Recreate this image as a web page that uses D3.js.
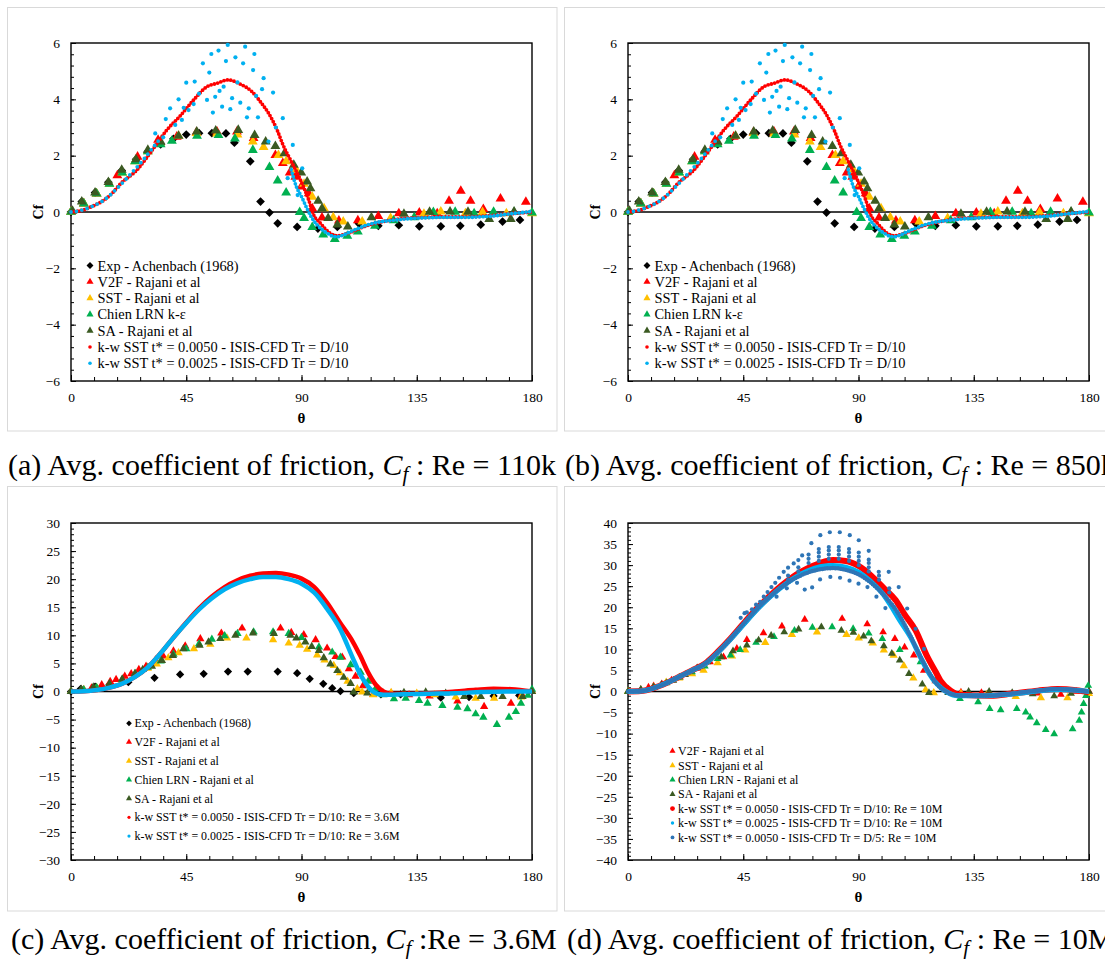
<!DOCTYPE html>
<html><head><meta charset="utf-8">
<script src="https://cdn.jsdelivr.net/npm/d3@7"></script>
<style>
body{margin:0;background:#fff;}
svg{display:block;}
text{font-family:"Liberation Serif","Times New Roman",serif;}
</style>
</head><body>
<svg id="chart" width="1105" height="959"></svg>
<script>
// ---------------- DATA ----------------
const xTickValues = [0, 45, 90, 135, 180];
const yTicksA = [-6, -4, -2, 0, 2, 4, 6];
const yTicksC = [-30, -25, -20, -15, -10, -5, 0, 5, 10, 15, 20, 25, 30];
const yTicksD = [-40, -35, -30, -25, -20, -15, -10, -5, 0, 5, 10, 15, 20, 25, 30, 35, 40];

const legendA = ["Exp - Achenbach (1968)", "V2F - Rajani et al", "SST - Rajani et al", "Chien LRN k-\u03b5", "SA - Rajani et al",
  "k-w SST t* = 0.0050 - ISIS-CFD Tr = D/10", "k-w SST t* = 0.0025 - ISIS-CFD Tr = D/10"];
const legendC = ["Exp - Achenbach (1968)", "V2F - Rajani et al", "SST - Rajani et al", "Chien LRN - Rajani et al", "SA - Rajani et al",
  "k-w SST t* = 0.0050 - ISIS-CFD Tr = D/10: Re = 3.6M", "k-w SST t* = 0.0025 - ISIS-CFD Tr = D/10: Re = 3.6M"];
const legendD = ["V2F - Rajani et al", "SST - Rajani et al", "Chien LRN - Rajani et al", "SA - Rajani et al",
  "k-w SST t* = 0.0050 - ISIS-CFD Tr = D/10: Re = 10M", "k-w SST t* = 0.0025 - ISIS-CFD Tr = D/10: Re = 10M",
  "k-w SST t* = 0.0050 - ISIS-CFD Tr = D/5: Re = 10M"];

const captionA = ["(a) Avg. coefficient of friction, ", " : Re = 110k"];
const captionB = ["(b) Avg. coefficient of friction, ", " : Re = 850k"];
const captionC = ["(c) Avg. coefficient of friction, ", " :Re = 3.6M"];
const captionD = ["(d) Avg. coefficient of friction, ", " : Re = 10M"];

// Panel (a)/(b): Re = 110k / 850k  [theta (deg), Cf]
const expA = [[0,0],[4.2,0.37],[9.4,0.69],[14.6,1.06],[19.8,1.47],[25.4,1.87],[30,2.15],[35,2.4],[40,2.6],[45,2.75],[50,2.8],[55,2.8],[60.5,2.79],[63.8,2.46],[70,1.8],[74,0.37],[77.5,-0.02],[80.7,-0.4],[88.3,-0.53],[96.4,-0.59],[104,-0.53],[112.4,-0.41],[120,-0.49],[128,-0.47],[136,-0.51],[144.4,-0.51],[152,-0.49],[160,-0.45],[168.5,-0.34],[175.3,-0.28]];
const v2fA = [[0,0],[5,0.3],[10,0.65],[18.1,1.3],[26,1.96],[34,2.56],[41.3,2.67],[49,2.83],[57,2.85],[64.8,2.85],[71.3,2.62],[79.8,2.02],[82.7,1.73],[85.4,1.4],[87.6,1.25],[89.9,0.9],[92.8,0.66],[94.2,0.13],[98,-0.2],[104.6,-0.31],[112,-0.3],[120,-0.15],[128,-0.05],[136,-0.02],[143,-0.05],[147.6,0.39],[152.2,0.75],[156,0.39],[161,0.1],[167.7,0.47],[177.6,0.36]];
const sstA = [[0,0],[5,0.3],[10,0.65],[15,1.0],[20,1.4],[25,1.8],[30,2.15],[34.8,2.44],[42,2.7],[49,2.8],[57,2.78],[65,2.75],[71,2.5],[75.2,2.3],[81,2.02],[84,1.8],[88,1.49],[91,1.0],[94.2,0.54],[98.8,0.13],[102.4,-0.19],[106.3,-0.34],[113.7,-0.34],[124.8,-0.22],[137.8,-0.07],[144.4,0.01],[154,-0.05],[160.7,-0.01],[170,-0.05],[180,-0.05]];
const chienA = [[0,0],[5,0.3],[10,0.65],[15,1.0],[20,1.4],[25,1.8],[30,2.15],[35,2.4],[39.4,2.52],[49.2,2.7],[57.6,2.73],[64,2.6],[71,2.2],[77.5,1.59],[80.7,1.11],[84,0.69],[89.3,-0.01],[91,-0.22],[94.2,-0.54],[98.5,-0.8],[103,-0.96],[107.9,-0.85],[112,-0.7],[118.7,-0.49],[126,-0.3],[134,-0.19],[141.5,-0.01],[150,0],[157.4,-0.05],[165,0],[173,-0.01],[180,-0.02]];
const saA = [[0.6,0.04],[4.2,0.37],[9.4,0.69],[14.6,1.06],[19.8,1.49],[25.4,1.87],[30,2.2],[35,2.5],[42,2.7],[49.1,2.85],[56.5,2.89],[65.3,2.91],[71.7,2.73],[76,2.5],[79.8,2.34],[83.3,2.08],[87,1.67],[89.9,1.4],[92.2,1.08],[93.5,0.84],[96.5,0.39],[98,0.13],[100.4,-0.22],[104,-0.45],[108.1,-0.52],[117.3,-0.19],[130,-0.07],[140,0],[148,0.01],[155,0],[163.3,-0.25],[171.7,-0.25],[173,0.01]];
const redA = [[0,0],[5,0.08],[8,0.19],[12,0.37],[16,0.66],[19.2,0.99],[25.7,1.49],[32.2,2.26],[37.4,2.91],[42.6,3.41],[47.9,3.98],[53.1,4.45],[57,4.57],[61.3,4.69],[66.1,4.54],[70.7,4.27],[73.9,3.92],[77.2,3.5],[80.5,2.91],[82.8,2.38],[85.7,1.85],[89.6,1.14],[92.8,0.43],[94.8,-0.11],[97.4,-0.4],[101.3,-0.76],[104,-0.84],[107.9,-0.76],[114.4,-0.52],[123.5,-0.31],[131.3,-0.22],[136.5,-0.2],[145,-0.17],[155,-0.17],[165,-0.12],[173,-0.05],[180,0]];
const blueLowA = [[0,0],[3,0.04],[6,0.12],[9,0.23],[12,0.37],[15,0.58],[18,0.84],[21,1.12],[24,1.42],[27,1.72],[30,2.05],[33,2.4],[35,2.62]];
const blueTailA = [[86,1.5],[88,0.9],[90,0.55],[92,0.15],[94,-0.2],[96,-0.45],[98,-0.62],[100,-0.75],[102,-0.85],[104,-0.88],[106,-0.83],[108,-0.75],[110,-0.66],[113,-0.55],[116,-0.45],[120,-0.36],[125,-0.3],[130,-0.25],[135,-0.22],[140,-0.2],[145,-0.19],[150,-0.19],[155,-0.19],[160,-0.17],[165,-0.14],[170,-0.08],[175,-0.03],[180,0.02]];
const blueScatterA = [[32.9,2.79],[36,2.65],[37,3.3],[38.7,3.68],[40.7,3.09],[42,4.0],[43.3,3.27],[44,3.7],[45,4.59],[45.9,3.62],[47.9,3.83],[48.3,4.63],[50,4.2],[51.5,5.28],[53.1,3.98],[54,4.95],[54.8,5.61],[55.4,3.53],[56.3,4.09],[57.6,5.73],[58,4.3],[59,3.74],[59.6,4.45],[60.5,5.36],[61.2,5.93],[62.2,3.65],[62.9,4.04],[64.2,5.49],[65,4.6],[66.1,3.88],[67.2,5.28],[68,5.87],[68.7,3.36],[69.4,3.68],[71.1,5.04],[71.6,5.61],[72.3,4.12],[73,3.36],[74.6,4.36],[75.2,4.75],[77.1,2.5],[78.9,4.24],[80,3.0],[82.7,3.33],[84.6,1.2],[86.6,2.38],[88.5,0.6],[90.3,1.55]];

// Panel (c): Re = 3.6M
const expC = [[0,0],[3.8,0.47],[9.4,0.89],[15,1.2],[22.4,1.66],[32.6,2.44],[42.6,3.03],[51.8,3.15],[61.3,3.56],[69,3.56],[80.7,3.56],[88.3,3.26],[93.2,2.26],[98.5,1.37],[102,0.59],[105.2,0.05],[110.4,-0.3],[121,-0.5],[128.7,-0.53],[144.4,-1.1],[155.4,-1.0],[165,-0.8],[175,-0.7]];
const v2fC = [[0,0],[5,0.3],[8,0.6],[12,1.19],[15.3,1.78],[17.6,2.14],[21,2.7],[23.5,3.15],[26.5,3.9],[29.3,4.5],[33,5.6],[36,6.3],[40,7.2],[44.6,8.07],[50.5,9.38],[58.7,10.38],[66.8,11.27],[81.8,11.27],[86,10.5],[90.9,10.09],[95.5,9.2],[100,7.71],[103.3,6.2],[105.9,6.11],[108.5,4.04],[111.1,2.7],[114,1.0],[118,-0.5],[125,-0.3],[132,-0.6],[140,-0.8],[150.9,-1.7],[161.3,-2.7],[171.8,-2.1],[176,-0.5],[180,0]];
const sstC = [[0,0],[5,0.3],[10,0.7],[15,1.2],[20,2],[25,3],[30,4.1],[33.5,4.9],[38,6],[42,6.9],[48,7.6],[54.4,8.4],[60.9,9.5],[68.5,9.5],[78.9,9.2],[85,8.6],[89.3,8.2],[92.2,7.5],[96.1,6.5],[99,5.6],[102.6,4.6],[105,3.3],[108,1.8],[111.8,0.5],[113.7,-0.1],[118,-0.6],[125,-0.2],[135,-0.3],[142,-0.6],[150.2,-1],[158,-1.2],[165.2,-1.2],[175.7,-1],[180,0]];
const chienC = [[0,0],[5,0.3],[10,0.7],[15,1.3],[20,2.1],[25,3.2],[30,4.3],[35,5.4],[40,6.6],[45,7.6],[50,8.5],[55,9.3],[60,9.9],[65,10.3],[71.3,10.6],[78.9,10.6],[85,10.3],[90,9.6],[96.8,7.9],[102,7],[105.2,6.1],[109.2,4.75],[113.1,3.4],[116,1.8],[118.9,0.5],[122,-0.6],[126.1,-1.3],[130.7,-1.2],[135.9,-1.6],[139.2,-2.1],[145,-2.5],[150.9,-2.8],[154.8,-3.1],[158,-4],[161,-4.6],[166.3,-5.9],[171,-4.6],[173.7,-3.6],[175.7,-2.1],[178.4,-0.7],[180,0.4]];
const saC = [[0,0],[4,0.4],[8.7,0.77],[15,1.37],[20,2.2],[25,3.2],[28,3.9],[31.6,4.5],[35.5,5.5],[39.8,6.4],[43.9,7.6],[50.2,8.2],[53.7,8.8],[58.3,9.4],[64.2,10],[71.1,10.4],[79.2,10.3],[85.7,10],[88,9.5],[91.5,8.8],[94,8],[96.8,7.3],[98.7,6],[101.3,4.9],[104,3.7],[106.5,2.5],[109.2,1.4],[110.4,-0.1],[115.7,-0.3],[122,-0.3],[130,-0.2],[138.5,-0.1],[146.3,-0.3],[153.5,-0.9],[160,-0.9],[168.5,-0.9],[176.3,-0.9],[180,0]];
const redC = [[0,0],[5,0.05],[10,0.25],[15,0.7],[20,1.4],[25,2.6],[30,4.3],[35,6.8],[40,9.6],[45,12.3],[50,14.8],[55,16.9],[60,18.6],[65,19.8],[70,20.6],[75,21],[80,21.1],[85,20.8],[90,20.1],[95,18.6],[100,15.8],[105,12.3],[110,8.9],[113,6.3],[116,3.4],[119,1.2],[122,0],[125,-0.4],[130,-0.4],[140,-0.3],[150,0],[158,0.3],[165,0.5],[172,0.4],[180,0]];
const blueC = [[0,0],[5,0.05],[10,0.25],[15,0.7],[20,1.4],[25,2.6],[30,4.3],[35,6.8],[40,9.6],[45,12.2],[50,14.6],[55,16.6],[60,18.2],[65,19.3],[70,20],[75,20.4],[80,20.4],[85,20],[90,19.2],[95,17.6],[100,14.7],[105,11.2],[110,6],[113,3],[116,0.9],[119,-0.3],[122,-0.6],[130,-0.5],[140,-0.4],[150,-0.3],[160,-0.1],[170,0],[180,0]];

// Panel (d): Re = 10M
const v2fD = [[0,0],[5,0.5],[8,1],[10,1.3],[13.2,1.8],[17,2.7],[20.3,3.4],[27,5.5],[32,7],[37.3,8.2],[42.5,10.2],[46.4,12.3],[52.9,13.9],[60.1,15.5],[69,17.1],[83.6,17.3],[93.4,16],[99.6,14.1],[104.2,12.5],[108,10.5],[111.6,8.6],[115.5,5],[120,2.5],[124,1],[130,-0.2],[138,-0.3],[150,-0.5],[160,-0.4],[169,-0.7],[175,0],[180,0]];
const sstD = [[0,0],[5,0.3],[10,1],[14.9,2.2],[20,3.2],[25,4.2],[29.5,5],[35,6.8],[40.6,8.4],[45.8,9.8],[53.6,11.6],[64,13.5],[73.8,14.1],[85.3,13.5],[90.1,12.7],[95.6,11.5],[99.9,9.8],[103.7,8.6],[107.7,6.1],[111.4,3.2],[116.2,0.4],[119.4,-0.3],[130,-0.5],[140,-0.8],[151.4,-1.2],[161.2,-1.5],[171.6,-1.5],[180,-0.5]];
const chienD = [[0,0],[5,0.4],[10,1],[15,2],[20,3.3],[25,4.6],[30,6],[35,7.8],[40,8.6],[43.8,9.9],[50,11.6],[57,13],[65,14.5],[72,15.2],[79.7,15.3],[87.9,14.9],[94,13.8],[99.3,12.5],[106.1,9.9],[114.2,7],[121.8,2.6],[125,0.5],[129.6,-1.7],[136.7,-2.5],[141.2,-4.1],[145.5,-4.4],[151.8,-4.1],[155.3,-4.9],[157,-6.1],[159.6,-7.5],[163.1,-9.1],[166.4,-10.1],[173.6,-8.9],[176.2,-6.9],[177.1,-4.9],[177.9,-2.9],[178.8,-1],[179.7,1.4]];
const saD = [[0,0],[5,0.4],[9.9,1],[13,1.6],[17.7,2.6],[22.3,4],[27,5.6],[31,7],[36.4,8.2],[41,9.6],[46.4,11],[51,12.2],[55.9,13.3],[61,14.1],[66.6,14.8],[75.5,15.3],[83.3,14.5],[88,14],[92,13.1],[95,12],[99.9,10.8],[103,9],[106.1,7.4],[109.7,4.2],[114.9,1.7],[117.5,-0.3],[125,-0.3],[133,0],[141,0],[150,-0.3],[158,-0.6],[166.4,-1.1],[173,-0.5],[180,0]];
const redD = [[0,0],[5,0.1],[10,0.8],[15,2],[20,3.5],[25,5],[30,6.6],[35,9.4],[40,12.6],[45,16.1],[50,19.5],[55,22.5],[60,25.2],[65,27.5],[70,29.2],[75,30.5],[80,31.2],[85,31],[90,29.8],[95,27.5],[100,24.5],[104.5,21.7],[108,18.3],[112.3,14.5],[116.9,8.2],[120,4.8],[122,2.6],[126,0.2],[130,-0.8],[141.6,-1],[150,-0.5],[160,0.2],[167.7,0.6],[175,0.3],[180,-0.2]];
const lblueD = [[0,0],[5,0.1],[10,0.8],[15,2],[20,3.5],[25,5],[30,6.5],[35,9.2],[40,12.4],[45,15.8],[50,19.2],[55,22.2],[60,24.8],[65,27],[70,28.6],[75,29.6],[80,29.9],[85,29.5],[90,28.3],[95,26],[100,22.8],[102.5,20.5],[106,17],[110.3,12.9],[113.5,9],[116.9,5],[120,2.2],[122,1],[125,-0.3],[128.6,-1],[140,-1],[150,-0.6],[160,0.1],[168,0.5],[175,0.3],[180,0]];
const dblueD = [[0,0],[5,0.1],[10,0.8],[15,2],[20,3.5],[25,5],[30,6.6],[35,9.3],[40,12.5],[45,16],[50,19.4],[55,22.3],[60,24.8],[65,26.8],[70,28.2],[75,29],[80,29.3],[85,28.9],[90,27.8],[95,25.8],[100,22.8],[105,19],[110,13.5],[114,8.5],[118,4],[121,1.5],[125,-0.3],[130,-1],[140,-1],[150,-0.5],[160,0.2],[168,0.6],[175,0.3],[180,0]];
const dblueSpikesD = [[44,17.5],[45.5,18.6],[46.4,18.8],[48.4,19.5],[50,20.6],[51.6,21.3],[53,22.5],[54.5,23.6],[56,24.8],[57.5,25.8],[59,27],[60.8,28.4],[62.5,29.4],[64.7,30.4],[66.5,31.2],[68,32.3],[71.6,35.2],[75.1,37.1],[78.8,37.8],[82.7,37.8],[86.6,37.1],[90.1,35.9],[94,33.4],[97.9,28.4],[101.8,28.4],[105.7,24.8],[109,19.7],[112.3,14.9],[115.6,10.1],
  [58,22.5],[62,24.5],[66,25.8],[69,24.2],[71.9,24.7],[75,26.6],[79,27.2],[82.8,27],[86.5,26.3],[90,25.6],[93.5,24.8],[97,22.5],[100.5,19.8],
  [70.5,30.5],[70.5,31.5],[70.5,32.5],[74.5,31],[74.5,32],[74.5,33],[74.5,33.8],[78.4,31.5],[78.4,32.5],[78.4,33.5],[78.4,34.3],[82.3,31.5],[82.3,32.5],[82.3,33.5],[82.3,34.3],[86.3,31],[86.3,32],[86.3,33],[86.3,33.8],[90.1,30],[90.1,31],[90.1,32],[90.1,33],[94,28.5],[94,29.5],[94,30.5],[94,31.3],[98,26.5],[98,27.5],[102,23.5],[102,24.5],[66.5,28.5],[66.5,29.5],[62.5,26.5],[62.5,27.5]];

// ---------------- STYLE ----------------
const COL = {exp:"#000000", v2f:"#ff0000", sst:"#ffc000", chien:"#00b050", sa:"#3b5a22", red:"#ff0000", lblue:"#00b0f0", dblue:"#2e75b6"};
const FONT = '"Liberation Serif","Times New Roman",serif';
const svg = d3.select("#chart");

function drawPanel(p) {
  const x = d3.scaleLinear().domain([0, 180]).range([p.left, p.right]);
  const y = d3.scaleLinear().domain(p.yDomain).range([p.bottom, p.top]);
  const g = svg.append("g");

  g.append("rect").attr("x", p.bx).attr("y", p.by).attr("width", p.bw).attr("height", p.bh)
    .attr("fill", "none").attr("stroke", "#d9d9d9").attr("stroke-width", 1);

  const styleAxis = s => {
    s.select(".domain").remove();
    s.attr("font-family", FONT).attr("font-size", 13.5);
    s.selectAll("line").attr("stroke", "#000").attr("stroke-width", 1);
    s.selectAll("text").attr("fill", "#000");
  };
  // y minor ticks
  g.append("g").attr("transform", `translate(${p.left},0)`)
    .call(d3.axisLeft(y).tickValues(d3.range(p.yDomain[0], p.yDomain[1] + 1e-6, p.yMinor)).tickSize(-3).tickFormat(""))
    .call(styleAxis);
  // y major ticks + labels
  g.append("g").attr("transform", `translate(${p.left},0)`)
    .call(d3.axisLeft(y).tickValues(p.yTicks).tickSize(-5).tickPadding(11))
    .call(styleAxis);
  // x minor ticks
  g.append("g").attr("transform", `translate(0,${p.bottom})`)
    .call(d3.axisBottom(x).tickValues(d3.range(0, 181, 9)).tickSize(-4).tickFormat(""))
    .call(styleAxis);
  // x major ticks + labels
  g.append("g").attr("transform", `translate(0,${p.bottom})`)
    .call(d3.axisBottom(x).tickValues(xTickValues).tickSize(-6).tickPadding(11))
    .call(styleAxis);

  // frame and zero line
  g.append("rect").attr("x", p.left).attr("y", p.top).attr("width", p.right - p.left).attr("height", p.bottom - p.top)
    .attr("fill", "none").attr("stroke", "#000").attr("stroke-width", 1.4);
  g.append("line").attr("x1", p.left).attr("x2", p.right).attr("y1", y(0)).attr("y2", y(0))
    .attr("stroke", "#000").attr("stroke-width", 1.4);

  // axis titles
  g.append("text").attr("transform", `translate(${p.left - 33},${(p.top + p.bottom) / 2}) rotate(-90)`)
    .attr("text-anchor", "middle").attr("dy", "0.35em").attr("font-weight", "bold").attr("font-size", 14).text("Cf");
  g.append("text").attr("x", (p.left + p.right) / 2).attr("y", p.bottom + 42)
    .attr("text-anchor", "middle").attr("font-weight", "bold").attr("font-size", 15).text("\u03b8");

  const pg = g.append("g");
  const sym = (data, type, color, size) => {
    const path = type === "diamond"
      ? d3.symbol(d3.symbolSquare, size)()
      : d3.symbol(d3.symbolTriangle, size)();
    pg.append("g").selectAll("path").data(data).join("path")
      .attr("d", path)
      .attr("transform", d => `translate(${x(d[0])},${y(d[1])})` + (type === "diamond" ? " rotate(45)" : ""))
      .attr("fill", color);
  };
  const dots = (data, color, r) => {
    pg.append("g").selectAll("circle").data(data).join("circle")
      .attr("cx", d => x(d[0])).attr("cy", d => y(d[1])).attr("r", r).attr("fill", color);
  };
  const line = d3.line().x(d => x(d[0])).y(d => y(d[1])).curve(d3.curveMonotoneX);
  const dotPath = (data, color, w, gap) => {
    pg.append("path").datum(data).attr("d", line).attr("fill", "none").attr("stroke", color)
      .attr("stroke-width", w).attr("stroke-linecap", "round").attr("stroke-dasharray", `0 ${gap}`);
  };
  const solid = (data, color, w) => {
    pg.append("path").datum(data).attr("d", line).attr("fill", "none").attr("stroke", color)
      .attr("stroke-width", w).attr("stroke-linejoin", "round");
  };
  p.draw({sym, dots, dotPath, solid});

  // legend
  const lg = g.append("g");
  p.legend.forEach((it, i) => {
    const ly = p.lgY + i * p.lgDy;
    if (it.type === "dot") {
      lg.append("circle").attr("cx", p.lgX).attr("cy", ly).attr("r", it.size).attr("fill", it.color);
    } else {
      lg.append("path").attr("d", d3.symbol(it.type === "diamond" ? d3.symbolSquare : d3.symbolTriangle, it.size)())
        .attr("transform", `translate(${p.lgX},${ly})` + (it.type === "diamond" ? " rotate(45)" : ""))
        .attr("fill", it.color);
    }
    lg.append("text").attr("x", p.lgX + p.lgGap).attr("y", ly).attr("dy", "0.35em")
      .attr("font-size", p.lgFont).text(it.label);
  });
}

function caption(x, yb, parts) {
  const t = svg.append("text").attr("x", x).attr("y", yb).attr("font-size", 30).attr("fill", "#000");
  t.append("tspan").text(parts[0]);
  t.append("tspan").attr("font-style", "italic").text("C");
  t.append("tspan").attr("font-style", "italic").attr("font-size", 21).attr("dy", 6).text("f");
  t.append("tspan").attr("dy", -6).text(parts[1]);
}

// ---------------- PANELS ----------------
function legendABItems(sizeT) {
  return [
    {type:"diamond", color:COL.exp, size:24, label:legendA[0]},
    {type:"tri", color:COL.v2f, size:sizeT, label:legendA[1]},
    {type:"tri", color:COL.sst, size:sizeT, label:legendA[2]},
    {type:"tri", color:COL.chien, size:sizeT, label:legendA[3]},
    {type:"tri", color:COL.sa, size:sizeT, label:legendA[4]},
    {type:"dot", color:COL.red, size:1.8, label:legendA[5]},
    {type:"dot", color:COL.lblue, size:1.8, label:legendA[6]}
  ];
}
function drawAB(s) {
  s.sym(expA, "diamond", COL.exp, 38);
  s.sym(v2fA, "tri", COL.v2f, 42);
  s.sym(sstA, "tri", COL.sst, 42);
  s.sym(chienA, "tri", COL.chien, 42);
  s.sym(saA, "tri", COL.sa, 42);
  s.dotPath(redA, COL.red, 3.8, 3.4);
  s.dotPath(blueLowA, COL.lblue, 3.8, 5.5);
  s.dotPath(blueTailA, COL.lblue, 3.8, 3.6);
  s.dots(blueScatterA, COL.lblue, 2.1);
}

drawPanel({left:71, right:532, top:43, bottom:381, yDomain:[-6,6], yTicks:yTicksA, yMinor:0.4,
  bx:7.5, by:7.5, bw:549.5, bh:423.5, draw:drawAB,
  legend:legendABItems(22), lgX:90, lgY:265.5, lgDy:16.3, lgGap:7.5, lgFont:14.4});
drawPanel({left:628, right:1089, top:43, bottom:381, yDomain:[-6,6], yTicks:yTicksA, yMinor:0.4,
  bx:564.5, by:7.5, bw:560, bh:423.5, draw:drawAB,
  legend:legendABItems(22), lgX:647, lgY:265.5, lgDy:16.3, lgGap:7.5, lgFont:14.4});

drawPanel({left:71, right:532, top:523, bottom:860, yDomain:[-30,30], yTicks:yTicksC, yMinor:1,
  bx:7.5, by:486.5, bw:549.5, bh:424.5,
  draw: s => {
    s.sym(expC, "diamond", COL.exp, 34);
    s.sym(v2fC, "tri", COL.v2f, 30);
    s.sym(sstC, "tri", COL.sst, 30);
    s.sym(chienC, "tri", COL.chien, 30);
    s.sym(saC, "tri", COL.sa, 30);
    s.solid(redC, COL.red, 4.5);
    s.solid(blueC, COL.lblue, 4.5);
  },
  legend:[
    {type:"diamond", color:COL.exp, size:16, label:legendC[0]},
    {type:"tri", color:COL.v2f, size:16, label:legendC[1]},
    {type:"tri", color:COL.sst, size:16, label:legendC[2]},
    {type:"tri", color:COL.chien, size:16, label:legendC[3]},
    {type:"tri", color:COL.sa, size:16, label:legendC[4]},
    {type:"dot", color:COL.red, size:1.6, label:legendC[5]},
    {type:"dot", color:COL.lblue, size:1.6, label:legendC[6]}
  ], lgX:129, lgY:723.3, lgDy:18.8, lgGap:5.5, lgFont:11.9});

drawPanel({left:628, right:1089, top:523, bottom:860, yDomain:[-40,40], yTicks:yTicksD, yMinor:1,
  bx:564.5, by:486.5, bw:560, bh:424.5,
  draw: s => {
    s.sym(v2fD, "tri", COL.v2f, 26);
    s.sym(sstD, "tri", COL.sst, 30);
    s.sym(chienD, "tri", COL.chien, 26);
    s.sym(saD, "tri", COL.sa, 26);
    s.solid(redD, COL.red, 6);
    s.solid(lblueD, COL.lblue, 5);
    s.dotPath(dblueD, COL.dblue, 4.5, 2.6);
    s.dots(dblueSpikesD, COL.dblue, 2.1);
  },
  legend:[
    {type:"tri", color:COL.v2f, size:16, label:legendD[0]},
    {type:"tri", color:COL.sst, size:16, label:legendD[1]},
    {type:"tri", color:COL.chien, size:16, label:legendD[2]},
    {type:"tri", color:COL.sa, size:16, label:legendD[3]},
    {type:"dot", color:COL.red, size:2.4, label:legendD[4]},
    {type:"dot", color:COL.lblue, size:1.7, label:legendD[5]},
    {type:"dot", color:COL.dblue, size:1.9, label:legendD[6]}
  ], lgX:672.5, lgY:751, lgDy:14.4, lgGap:5.5, lgFont:12});

caption(8, 475, captionA);
caption(565, 475, captionB);
caption(11, 949, captionC);
caption(567, 949, captionD);
</script>
</body></html>
